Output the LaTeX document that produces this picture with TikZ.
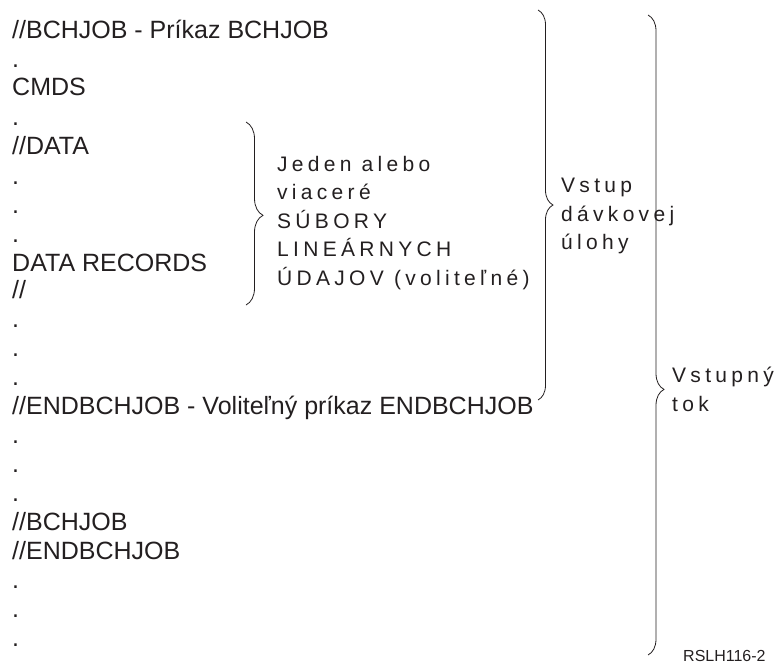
\documentclass[tikz,border=0pt]{standalone}
\usepackage{fontspec}
\setmainfont{Liberation Sans}
\newfontfamily\spacedfont{Liberation Sans}[LetterSpace=20.5]
\usetikzlibrary{decorations.pathreplacing}
\definecolor{ink}{RGB}{35,31,32}

\tikzset{
  codeline/.style={anchor=base west, inner sep=0pt, text=ink, font=\fontsize{25}{25}\selectfont},
  note/.style={anchor=north west, inner sep=0pt, align=left, text=ink, font=\fontsize{21}{28.5}\selectfont\spacedfont},
  curly/.style={draw=ink, line width=0.8pt, decorate}
}

\begin{document}
\begin{tikzpicture}[x=1pt,y=-1pt]
  \useasboundingbox (0,0) rectangle (782,664);
  % job stream, one line after another
  \node[codeline] (bch)   at (12,38)  {//BCHJOB - Príkaz BCHJOB};
  \node[codeline] (p1)    at (12,67)  {.};
  \node[codeline] (cmds)  at (12,95)  {CMDS};
  \node[codeline] (p2)    at (12,125) {.};
  \node[codeline] (data)  at (12,154) {//DATA};
  \node[codeline] (p3)    at (12,184) {.};
  \node[codeline] (p4)    at (12,213) {.};
  \node[codeline] (p5)    at (12,242) {.};
  \node[codeline] (rec)   at (12,271) {DATA RECORDS};
  \node[codeline] (dend)  at (12,298) {//};
  \node[codeline] (p6)    at (12,327) {.};
  \node[codeline] (p7)    at (12,356) {.};
  \node[codeline] (p8)    at (12,385) {.};
  \node[codeline] (endb)  at (12,414) {//ENDBCHJOB - Voliteľný príkaz ENDBCHJOB};
  \node[codeline] (p9)    at (12,443) {.};
  \node[codeline] (p10)   at (12,472) {.};
  \node[codeline] (p11)   at (12,501) {.};
  \node[codeline] (bch2)  at (12,530) {//BCHJOB};
  \node[codeline] (endb2) at (12,559) {//ENDBCHJOB};
  \node[codeline] (p12)   at (12,588) {.};
  \node[codeline] (p13)   at (12,617) {.};
  \node[codeline] (p14)   at (12,646) {.};

  % braces and what they hold
  \coordinate (s1) at (246,122);
  \coordinate (s2) at (246,305);
  \coordinate (j1) at (538,10);
  \coordinate (j2) at (538,400);
  \coordinate (t1) at (648,15);
  \coordinate (t2) at (648,655);
  \draw[curly, decoration={brace, amplitude=17pt, aspect=0.51}] (s1) -- (s2);
  \draw[curly, decoration={brace, amplitude=15pt, aspect=0.5}] (j1) -- (j2);
  \draw[curly, decoration={brace, amplitude=16pt, aspect=0.585}] (t1) -- (t2);

  \node[note] (files) at (277,156) {Jeden alebo\\viaceré\\SÚBORY\\LINEÁRNYCH\\ÚDAJOV (voliteľné)};
  \node[note] (job)   at (561,178) {Vstup\\dávkovej\\úlohy};
  \node[note] (flow)  at (672,367) {Vstupný\\tok};

  \node[anchor=base west, inner sep=0pt, text=ink, font=\fontsize{16}{16}\selectfont] (fig) at (683,661) {RSLH116-2};
\end{tikzpicture}
\end{document}
